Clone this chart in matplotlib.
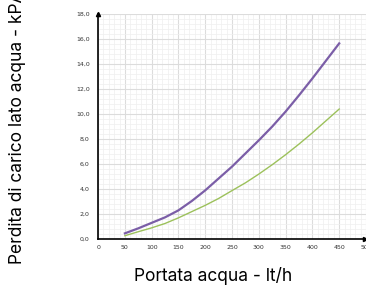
import matplotlib.pyplot as plt
from matplotlib.ticker import MultipleLocator, FuncFormatter

# Portata (lt/h) and pressure drop (kPa)
portata = [50, 75, 100, 125, 150, 175, 200, 225, 250, 275, 300, 325, 350, 375, 400, 425, 450]
perdita_viola = [0.46, 0.86, 1.3, 1.74, 2.3, 3.05, 3.9, 4.85, 5.8, 6.85, 7.9, 9.0,
                 10.2, 11.5, 12.85, 14.25, 15.65]
perdita_verde = [0.27, 0.59, 0.9, 1.25, 1.7, 2.2, 2.7, 3.25, 3.88, 4.5, 5.2, 5.95,
                 6.75, 7.6, 8.5, 9.45, 10.4]

x_ticks = [0, 50, 100, 150, 200, 250, 300, 350, 400, 450, 500]
y_ticks = [0, 2, 4, 6, 8, 10, 12, 14, 16, 18]

fig = plt.figure(figsize=(3.66, 2.86), dpi=100)
ax = fig.add_axes([0.268, 0.164, 0.732, 0.787])

ax.plot(portata, perdita_viola, color='#7b5ea7', lw=1.6, zorder=3)
ax.plot(portata, perdita_verde, color='#9cc15b', lw=1.0, zorder=3)

ax.set_xlim(0, 500)
ax.set_ylim(0, 18)
ax.set_xticks(x_ticks)
ax.set_yticks(y_ticks)
ax.xaxis.set_minor_locator(MultipleLocator(10))
ax.yaxis.set_minor_locator(MultipleLocator(0.4))
ax.yaxis.set_major_formatter(FuncFormatter(lambda v, p: f'{v:.1f}'.replace('.', ',')))
ax.grid(which='major', color='#dcdcdc', lw=0.8)
ax.grid(which='minor', color='#efefef', lw=0.5)
ax.set_axisbelow(True)

ax.tick_params(which='both', length=0, labelsize=4.5, colors='#333333')
ax.tick_params(axis='x', pad=4)
ax.tick_params(axis='y', pad=6)

for s in ['top', 'right']:
    ax.spines[s].set_visible(False)
for s in ['left', 'bottom']:
    ax.spines[s].set_linewidth(1.2)
    ax.spines[s].set_color('black')

# arrow heads on axes
ax.plot(0.995, 0, '>k', ms=3, transform=ax.transAxes, clip_on=False)
ax.plot(0, 1, '^k', ms=3, transform=ax.transAxes, clip_on=False)

fig.text(213 / 366, 1 - 276 / 286, 'Portata acqua - lt/h', ha='center', va='center',
         fontsize=12.5, family='Inter')
fig.text(18 / 366, 1 - 127 / 286, 'Perdita di carico lato acqua - kPA', ha='center',
         va='center', rotation=90, fontsize=12.5, family='Inter')

fig.savefig('out.png', dpi=100)
